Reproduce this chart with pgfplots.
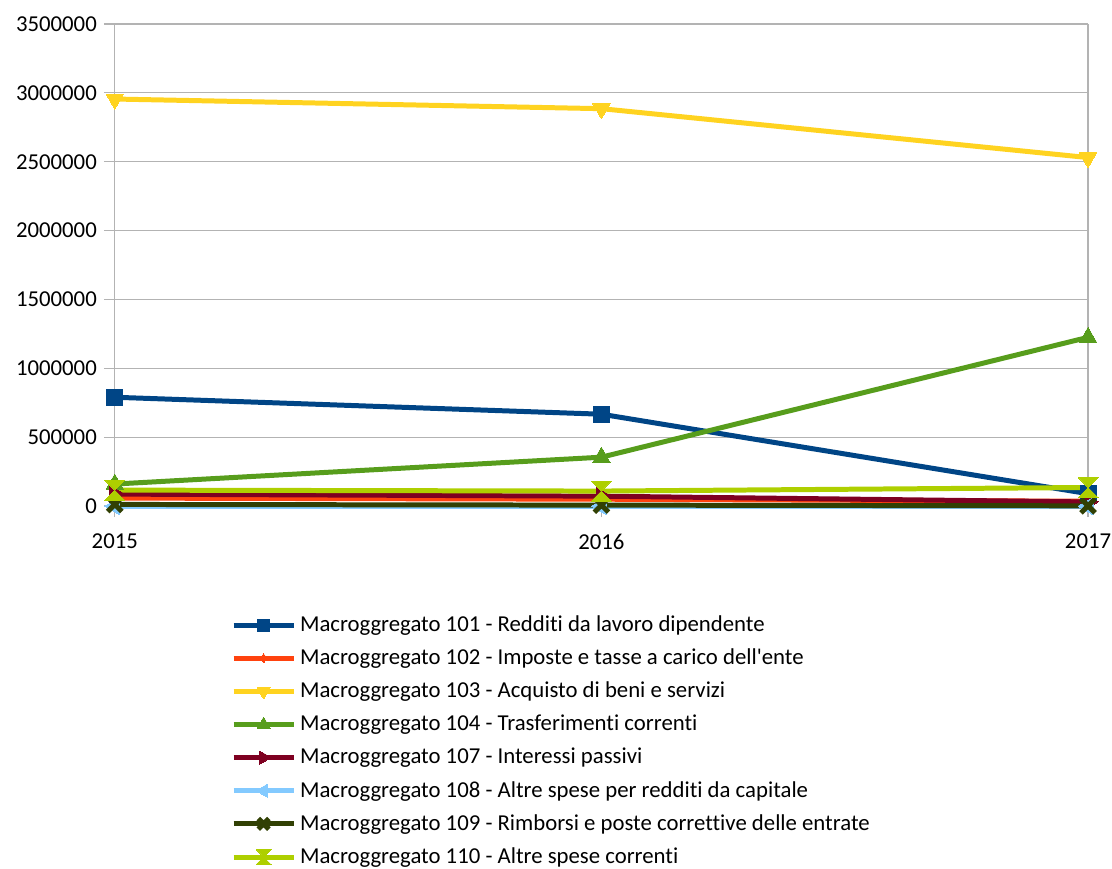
\documentclass[border=0pt]{standalone}
\usepackage{pgfplots}
\pgfplotsset{compat=1.18}
\usepackage{fontspec}
\setmainfont{Carlito}[Ligatures={ResetAll,NoCommon,NoContextual}]
\newcommand{\sq}{\XeTeXglyph\XeTeXcharglyph"27\relax}
\definecolor{c101}{HTML}{004586}
\definecolor{c102}{HTML}{FF420E}
\definecolor{c103}{HTML}{FFD320}
\definecolor{c104}{HTML}{579D1C}
\definecolor{c107}{HTML}{7E0021}
\definecolor{c108}{HTML}{83CAFF}
\definecolor{c109}{HTML}{314004}
\definecolor{c110}{HTML}{AECF00}
\definecolor{gridc}{HTML}{B3B3B3}
\pgfdeclareplotmark{hourglass}{%
  \pgfpathmoveto{\pgfqpoint{-\pgfplotmarksize}{\pgfplotmarksize}}%
  \pgfpathlineto{\pgfqpoint{\pgfplotmarksize}{\pgfplotmarksize}}%
  \pgfpathlineto{\pgfqpoint{-\pgfplotmarksize}{-\pgfplotmarksize}}%
  \pgfpathlineto{\pgfqpoint{\pgfplotmarksize}{-\pgfplotmarksize}}%
  \pgfpathclose
  \pgfusepathqfillstroke}
\begin{document}
\begin{tikzpicture}
\begin{axis}[
  name=ax,
  scale only axis,
  width=487.5pt, height=241.5pt,
  xmin=2015, xmax=2017,
  ymin=0, ymax=3500000,
  xtick={2015,2016,2017},
  ytick={0,500000,1000000,1500000,2000000,2500000,3000000,3500000},
  /pgf/number format/fixed,
  /pgf/number format/1000 sep={},
  /pgf/number format/assume math mode=true,
  scaled y ticks=false,
  tick label style={font=\fontsize{11.4}{13}\selectfont, text=black},
  xticklabel style={yshift=-5pt},
  ymajorgrids,
  grid style={gridc, line width=0.6pt},
  axis line style={gridc, line width=0.6pt},
  tick style={gridc, line width=0.6pt},
  tick align=outside,
  major tick length=5.5pt,
  axis x line*=bottom,
  axis y line*=left,
  clip=false,
  every axis plot/.append style={line width=2.5pt},
  legend style={at={(0.113,-0.21)}, anchor=north west, draw=none, fill=none,
    font=\fontsize{11.4}{13}\selectfont, row sep=3.2pt, cells={anchor=west}},
  legend cell align=left,
  legend image code/.code={%
    \draw[mark repeat=2,mark phase=2,#1,every mark/.append style={scale=0.75}] plot coordinates {(0pt,0pt) (15pt,0pt) (30pt,0pt)};},
]
\addplot[c101, mark=square*, mark size=4pt, mark options={solid, fill=c101, line width=0pt}] coordinates {(2015,790000) (2016,667000) (2017,90000)};
\addlegendentry{Macroggregato 101 - Redditi da lavoro dipendente}
\addplot[c102, mark=diamond*, mark size=3pt, mark options={solid, fill=c102, line width=0pt}] coordinates {(2015,58000) (2016,50000) (2017,35000)};
\addlegendentry{Macroggregato 102 - Imposte e tasse a carico dell\sq ente}
\addplot[c103, mark=triangle*, mark size=5pt, mark options={solid, fill=c103, line width=0pt, rotate=180}] coordinates {(2015,2955000) (2016,2885000) (2017,2530000)};
\addlegendentry{Macroggregato 103 - Acquisto di beni e servizi}
\addplot[c104, mark=triangle*, mark size=5pt, mark options={solid, fill=c104, line width=0pt}] coordinates {(2015,160000) (2016,355000) (2017,1225000)};
\addlegendentry{Macroggregato 104 - Trasferimenti correnti}
\addplot[c107, mark=triangle*, mark size=5pt, mark options={solid, fill=c107, line width=0pt, rotate=-90}] coordinates {(2015,87000) (2016,72000) (2017,30000)};
\addlegendentry{Macroggregato 107 - Interessi passivi}
\addplot[c108, mark=triangle*, mark size=5pt, mark options={solid, fill=c108, line width=0pt, rotate=90}] coordinates {(2015,0) (2016,0) (2017,0)};
\addlegendentry{Macroggregato 108 - Altre spese per redditi da capitale}
\addplot[c109, mark=x, mark size=5pt, mark options={solid, line width=2.5pt}] coordinates {(2015,12000) (2016,7000) (2017,2000)};
\addlegendentry{Macroggregato 109 - Rimborsi e poste correttive delle entrate}
\addplot[c110, mark=hourglass, mark size=5pt, mark options={solid, fill=c110, line width=0pt}] coordinates {(2015,116000) (2016,109000) (2017,135000)};
\addlegendentry{Macroggregato 110 - Altre spese correnti}
\draw[gridc, line width=0.6pt] (rel axis cs:1,0) -- (rel axis cs:1,1);
\end{axis}
\pgfresetboundingbox
\path ([xshift=-57.5pt,yshift=-181.5pt]ax.south west) rectangle ([xshift=12pt,yshift=12pt]ax.north east);
\end{tikzpicture}
\end{document}
